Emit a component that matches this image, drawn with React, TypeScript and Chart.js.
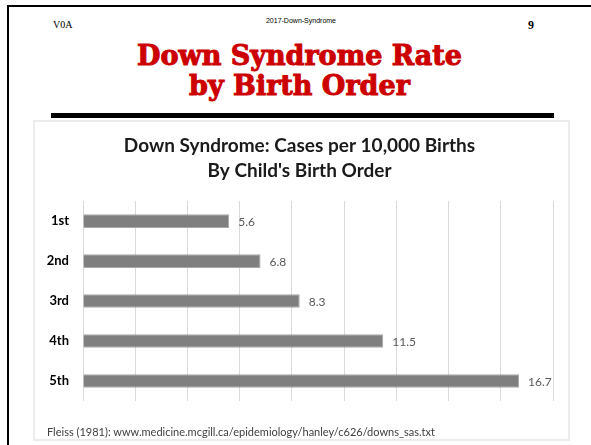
import React, { useEffect, useRef } from "react";
import { Chart, registerables } from "chart.js";

Chart.register(...registerables);

const categories = ["1st", "2nd", "3rd", "4th", "5th"];
const casesPer10k = [5.6, 6.8, 8.3, 11.5, 16.7];
const chartTitle = ["Down Syndrome: Cases per 10,000 Births", "By Child's Birth Order"];
const sourceNote = "Fleiss (1981): www.medicine.mcgill.ca/epidemiology/hanley/c626/downs_sas.txt";
const xMin = 0;
const xMax = 18;
const xStep = 2;

const valueLabels = {
  id: "valueLabels",
  afterDatasetsDraw(chart: any) {
    const ctx = chart.ctx;
    const meta = chart.getDatasetMeta(0);
    const data = chart.data.datasets[0].data;
    ctx.save();
    ctx.font = "12px Lato";
    ctx.fillStyle = "#595959";
    ctx.textBaseline = "middle";
    ctx.textAlign = "left";
    meta.data.forEach((bar: any, i: number) => {
      ctx.fillText(Number(data[i]).toFixed(1), bar.x + 9, bar.y + 1);
    });
    ctx.restore();
  },
};

function DownChart() {
  const ref = useRef<HTMLCanvasElement | null>(null);
  useEffect(() => {
    if (!ref.current) return;
    const chart = new Chart(ref.current, {
      type: "bar",
      data: {
        labels: categories,
        datasets: [
          {
            data: casesPer10k,
            backgroundColor: "#7f7f7f",
            borderColor: "#a9a9a9",
            borderWidth: 1,
            barPercentage: 0.34,
            categoryPercentage: 1,
          },
        ],
      },
      options: {
        indexAxis: "y",
        responsive: false,
        maintainAspectRatio: false,
        animation: false,
        layout: { padding: { left: 11, right: 15, top: 0, bottom: 38 } },
        plugins: {
          legend: { display: false },
          tooltip: { enabled: false },
          title: {
            display: true,
            text: chartTitle,
            color: "#1a1a1a",
            font: { family: "Lato", size: 19, weight: "bold", lineHeight: 1.32 },
            padding: { top: 11, bottom: 18 },
          },
        },
        scales: {
          x: {
            min: xMin,
            max: xMax,
            ticks: { display: false, stepSize: xStep },
            grid: { color: "#d9d9d9", lineWidth: 1, drawTicks: false },
            border: { display: false },
          },
          y: {
            type: "category",
            grid: { display: false, drawTicks: false },
            border: { display: false },
            ticks: {
              color: "#000000",
              padding: 14,
              font: { family: "Lato", size: 13, weight: "bold" },
            },
            afterFit: (scale: any) => {
              scale.width = 37;
            },
          },
        },
      },
      plugins: [valueLabels],
    });
    return () => chart.destroy();
  }, []);
  return (
    <div style={{ position: "relative", width: 533, height: 317 }}>
      <canvas ref={ref} width={533} height={317} style={{ display: "block" }} />
      <div
        style={{
          position: "absolute",
          left: 12,
          top: 303,
          fontFamily: "Lato",
          fontSize: 11,
          lineHeight: "14px",
          color: "#404040",
          whiteSpace: "nowrap",
        }}
      >
        {sourceNote}
      </div>
    </div>
  );
}

export default function App() {
  return (
    <div style={{ position: "fixed", inset: 0, overflow: "hidden", background: "#fff" }}>
      <div
        style={{
          position: "absolute",
          left: 7,
          top: 5,
          width: 700,
          height: 600,
          borderLeft: "2px solid #000",
          borderTop: "2px solid #000",
        }}
      />
      <div
        style={{
          position: "absolute",
          left: 53,
          top: 18,
          fontFamily: "Liberation Serif",
          fontSize: 10,
          lineHeight: "14px",
          color: "#000",
        }}
      >
        V0A
      </div>
      <div
        style={{
          position: "absolute",
          left: 201,
          width: 200,
          top: 16,
          textAlign: "center",
          fontFamily: "Liberation Sans",
          fontSize: 7,
          lineHeight: "10px",
          color: "#000",
        }}
      >
        2017-Down-Syndrome
      </div>
      <div
        style={{
          position: "absolute",
          left: 528,
          top: 18,
          fontFamily: "Liberation Serif",
          fontWeight: "bold",
          fontSize: 12,
          lineHeight: "14px",
          color: "#000",
        }}
      >
        9
      </div>
      <div
        style={{
          position: "absolute",
          left: 0,
          width: 599,
          top: 41,
          textAlign: "center",
          fontFamily: "DejaVu Serif",
          fontWeight: "bold",
          fontSize: 27,
          lineHeight: "30px",
          color: "#cc0000",
          WebkitTextStroke: "1px #cc0000",
        }}
      >
        Down Syndrome Rate
        <br />
        by Birth Order
      </div>
      <div
        style={{
          position: "absolute",
          left: 51,
          top: 113,
          width: 503,
          height: 5,
          background: "#000",
        }}
      />
      <div
        style={{
          position: "absolute",
          left: 33,
          top: 120,
          width: 537,
          height: 321,
          boxSizing: "border-box",
          border: "2px solid #ececec",
          background: "#fff",
        }}
      >
        <DownChart />
      </div>
    </div>
  );
}
